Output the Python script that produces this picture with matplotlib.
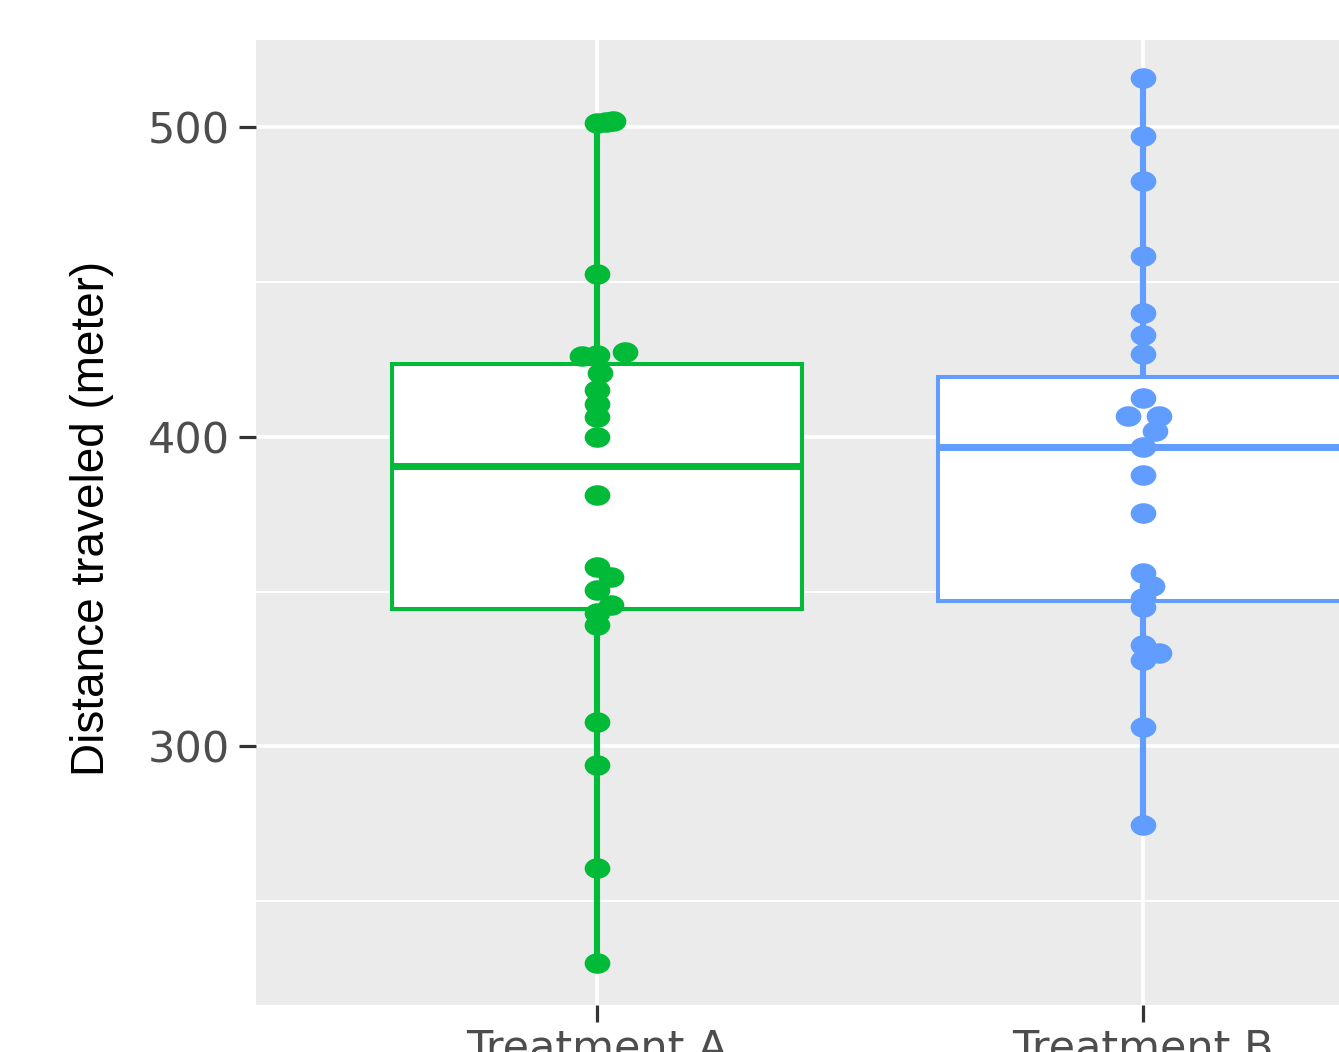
import matplotlib
matplotlib.use("Agg")
import matplotlib.pyplot as plt
from matplotlib import font_manager
from matplotlib.path import Path
from matplotlib.transforms import Affine2D

# ---- data -------------------------------------------------------------
groups = ["Treatment A", "Treatment B"]
colors = ["#00BA38", "#619CFF"]

# box statistics (meters)
q1 = [344.5, 346.9]
median = [390.5, 396.6]
q3 = [423.4, 419.4]
whisker_low = [230.0, 274.6]
whisker_high = [501.5, 515.9]

# individual observations and their horizontal jitter (category units)
values_a = [501.2, 501.5, 502.0, 452.7, 426.0, 426.5, 427.5, 420.5, 415.0,
            410.5, 406.5, 400.0, 381.3, 358.0, 354.6, 350.6, 345.7, 343.0,
            339.3, 308.0, 294.0, 260.7, 230.0]
jitter_a = [0.000, 0.016, 0.030, 0.000, -0.027, 0.000, 0.052, 0.005, 0.000,
            0.000, 0.000, 0.000, 0.000, 0.000, 0.025, 0.000, 0.025, 0.000,
            0.000, 0.000, 0.000, 0.000, 0.000]

values_b = [515.9, 497.1, 482.7, 458.2, 440.1, 433.0, 426.8, 412.6, 406.8,
            406.8, 402.0, 396.8, 387.7, 375.4, 356.1, 351.9, 348.0, 345.1,
            332.8, 330.2, 327.9, 306.3, 274.6]
jitter_b = [0.000, 0.000, 0.000, 0.000, 0.000, 0.000, 0.000, 0.000, -0.028,
            0.030, 0.022, 0.000, 0.000, 0.000, 0.000, 0.016, 0.000, 0.000,
            0.000, 0.030, 0.000, 0.000, 0.000]

y_major = [300, 400, 500]
y_minor = [250, 350, 450]
y_label = "Distance traveled (meter)"

# ---- figure -------------------------------------------------------------
W, H = 1339, 1052
fig = plt.figure(figsize=(W / 100, H / 100), dpi=100)
fig.patch.set_facecolor("white")
ax = fig.add_axes([256 / W, 1 - 1005 / H, 1 - 256 / W, (1005 - 40) / H])
ax.set_facecolor("#EBEBEB")
for s in ax.spines.values():
    s.set_visible(False)

# boxes
stats = []
for i in range(2):
    stats.append(dict(med=median[i], q1=q1[i], q3=q3[i], label=groups[i],
                      whislo=whisker_low[i], whishi=whisker_high[i], fliers=[]))
bp = ax.bxp(stats, positions=[1, 2], widths=0.75, patch_artist=True,
            showcaps=False, showfliers=False)
for i, c in enumerate(colors):
    box = bp["boxes"][i]
    box.set_facecolor("white")
    box.set_edgecolor(c)
    box.set_linewidth(2.9)
    box.set_zorder(3)
    med = bp["medians"][i]
    med.set_color(c)
    med.set_linewidth(5.0)
    med.set_zorder(3.5)
    for w in bp["whiskers"][2 * i:2 * i + 2]:
        w.set_color(c)
        w.set_linewidth(4.4)
        w.set_zorder(2)

# points (slightly wide ellipses)
ellipse = Path.unit_circle().transformed(Affine2D().scale(1.25, 1.0))
for pos, vals, jit, c in [(1, values_a, jitter_a, colors[0]),
                          (2, values_b, jitter_b, colors[1])]:
    xs = [pos + j for j in jit]
    ax.scatter(xs, vals, s=18.5 ** 2, marker=ellipse, color=c,
               linewidths=0, zorder=5)

ax.set_xlim(0.3755, 2.359)
ax.set_ylim(216.5, 528.1)

# grid and ticks
ax.set_yticks(y_major)
ax.set_yticks(y_minor, minor=True)
ax.set_xticks([1, 2])
ax.set_xticklabels(groups)
ax.grid(which="major", color="white", linewidth=2.6, zorder=0)
ax.grid(which="minor", axis="y", color="white", linewidth=1.5, zorder=0)
ax.set_axisbelow(True)

ax.tick_params(axis="both", which="major", length=12, width=2.3,
               color="#333333", labelcolor="#4D4D4D", labelsize=31)
ax.tick_params(axis="y", which="major", pad=7)
ax.tick_params(axis="x", which="major", pad=4)
ax.tick_params(which="minor", length=0)
for lab in ax.get_xticklabels() + ax.get_yticklabels():
    lab.set_fontfamily("DejaVu Sans")

# y axis title
names = {f.name for f in font_manager.fontManager.ttflist}
if "Liberation Sans Narrow" in names:
    lab_family, lab_size = "Liberation Sans Narrow", 40
else:
    lab_family, lab_size = "Liberation Sans", 33
ax.set_ylabel(y_label, fontsize=lab_size, family=lab_family, color="black")
ax.yaxis.label.set_va("center")
ax.yaxis.set_label_coords((92 - 256) / (W - 256), (1005 - 518) / (1005 - 40))

fig.savefig("out.png", dpi=100, facecolor="white")
